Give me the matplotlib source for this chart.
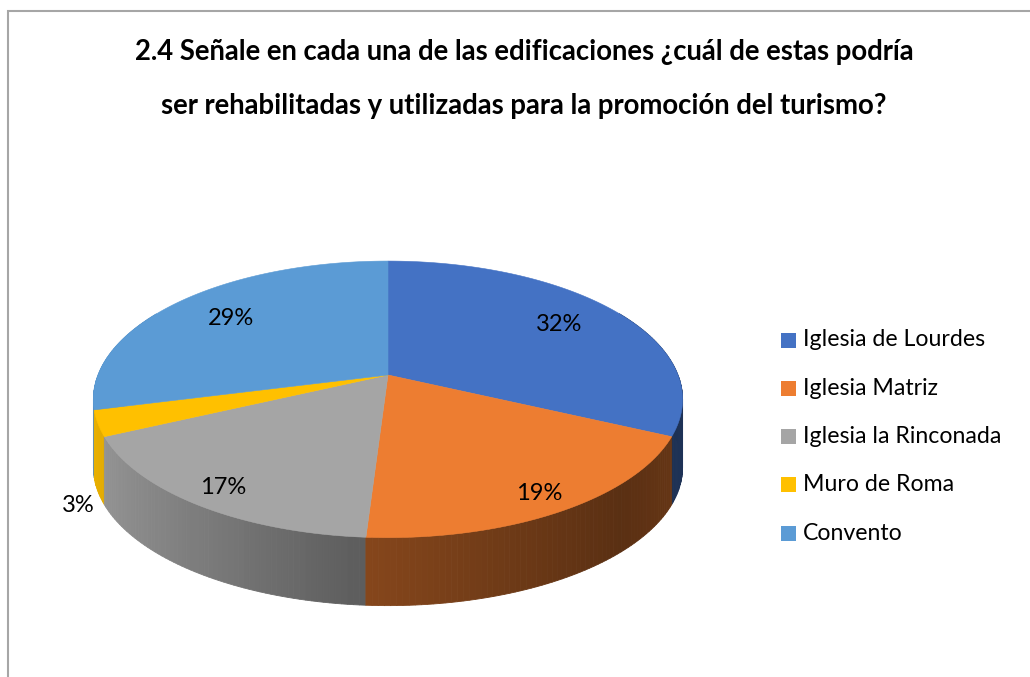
import numpy as np
import matplotlib.pyplot as plt
from matplotlib.patches import Polygon, Rectangle
from matplotlib.colors import to_rgb

# Data
categories = ['Iglesia de Lourdes', 'Iglesia Matriz', 'Iglesia la Rinconada',
              'Muro de Roma', 'Convento']
percentages = [32, 19, 17, 3, 29]
colors = ['#4472C4', '#ED7D31', '#A5A5A5', '#FFC000', '#5B9BD5']
title_lines = ['2.4 Señale en cada una de las edificaciones ¿cuál de estas podría',
               'ser rehabilitadas y utilizadas para la promoción del turismo?']

plt.rcParams['font.family'] = ['Lato', 'DejaVu Sans']

# figure in pixel coordinates
fig = plt.figure(figsize=(10.30, 6.77), dpi=100)
ax = fig.add_axes([0, 0, 1, 1])
ax.set_xlim(0, 1030)
ax.set_ylim(677, 0)
ax.axis('off')

# chart frame (only left and top edges are inside the picture)
ax.plot([7.5, 7.5, 1030], [677, 10.5, 10.5], color='#a6a6a6', lw=1.5,
        solid_joinstyle='miter')

# 3D pie geometry: tilted disc with a little perspective
cx, cy = 388, 375
rx, ry = 290, 134
k = 0.176
depth = 68


def project(theta, r=1.0):
    # theta measured clockwise from 12 o'clock
    u = r * np.sin(theta)
    v = r * np.cos(theta)
    w = 1 + k * v
    return cx + rx * u / w, cy - ry * v / w


def shade(u):
    return np.interp(u, [-1, -0.1, 0.7, 1], [0.93, 0.57, 0.38, 0.45])


bounds = np.cumsum([0] + percentages) / sum(percentages) * 2 * np.pi

# side walls, drawn back to front
quads = []
for i, col in enumerate(colors):
    base = np.array(to_rgb(col))
    n = max(int(np.degrees(bounds[i + 1] - bounds[i])), 2)
    ts = np.linspace(bounds[i], bounds[i + 1], n + 1)
    for t1, t2 in zip(ts[:-1], ts[1:]):
        tm = (t1 + t2) / 2
        if np.cos(tm) > 0.5:
            continue
        x1, y1 = project(t1)
        x2, y2 = project(t2)
        c = np.clip(base * shade(np.sin(tm)), 0, 1)
        quads.append((np.cos(tm), [(x1, y1), (x2, y2), (x2, y2 + depth), (x1, y1 + depth)], c))
quads.sort(key=lambda q: -q[0])
for _, pts, c in quads:
    ax.add_patch(Polygon(pts, closed=True, facecolor=c, edgecolor=c, lw=0.6))

# top faces
for i, col in enumerate(colors):
    ts = np.linspace(bounds[i], bounds[i + 1], 200)
    xs, ys = project(ts)
    pts = [(cx, cy)] + list(zip(xs, ys))
    ax.add_patch(Polygon(pts, closed=True, facecolor=col, edgecolor=col, lw=0.4))

# data labels
for i, p in enumerate(percentages):
    mid = (bounds[i] + bounds[i + 1]) / 2
    if p < 5:
        x, y = project(mid)
        ax.text(x - 20, y + depth + 14, f'{p}%', fontsize=17, ha='center', va='center')
    else:
        r = 0.8 - 0.1 * np.cos(mid)
        x, y = project(mid, r)
        ax.text(x, y, f'{p}%', fontsize=17, ha='center', va='center')

# title
ax.text(524, 52, title_lines[0], fontsize=19.8, fontweight='bold', ha='center', va='center')
ax.text(524, 106, title_lines[1], fontsize=19.8, fontweight='bold', ha='center', va='center')

# legend
for i, (cat, col) in enumerate(zip(categories, colors)):
    y = 340 + i * 48.3
    ax.add_patch(Rectangle((781, y - 7.5), 15, 15, facecolor=col, edgecolor='none'))
    ax.text(803, y, cat, fontsize=16.7, ha='left', va='center')

fig.savefig('out.png', dpi=100)
